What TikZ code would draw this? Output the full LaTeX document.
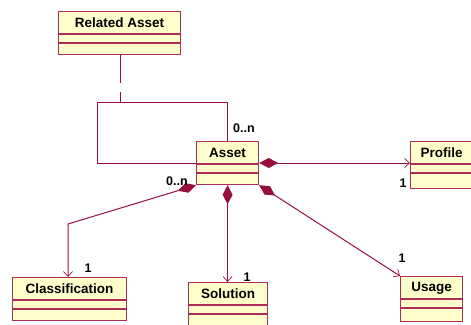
\documentclass[tikz,border=0pt]{standalone}
\usepackage{fontspec}
\setmainfont{Liberation Sans}
\usetikzlibrary{arrows.meta,calc}
\definecolor{classedge}{RGB}{176,44,88}
\definecolor{classfill}{RGB}{255,255,204}
\definecolor{assoc}{RGB}{150,16,60}
\tikzset{
  classbox/.style={draw=classedge, fill=classfill, line width=1.2pt, inner sep=0pt, anchor=north west},
  classname/.style={font=\bfseries\fontsize{13.5}{15}\selectfont, inner sep=0pt},
  mult/.style={font=\bfseries\fontsize{12.5}{14}\selectfont, inner sep=0pt, text=black},
  link/.style={draw=assoc, line width=1pt},
  compose/.style={link, {Diamond[fill=assoc, length=19pt, width=10pt]}-{Straight Barb[length=5pt, width=9pt, line width=0.7pt]}},
}
% \umlclass{name}{left}{top}{width}{height}{label}: a class box with two empty compartments
% (y grows downwards in this picture)
\newcommand\umlclass[6]{%
  \node[classbox, minimum width=#4pt, minimum height=#5pt] (#1) at (#2,#3) {};
  \draw[classedge, line width=1.2pt] ($(#1.north west)+(0,23)$) -- ($(#1.north east)+(0,23)$);
  \draw[classedge, line width=1.2pt] ($(#1.north west)+(0,32)$) -- ($(#1.north east)+(0,32)$);
  \node[classname] (#1-label) at ($(#1.north)+(0,12)$) {#6};
}
\begin{document}
\begin{tikzpicture}[x=1pt, y=-1pt]
\useasboundingbox (0,0) rectangle (471,324);
\clip (0,0) rectangle (471,324);

\umlclass{related}{58}{11}{122}{43}{Related Asset}
\umlclass{asset}{196}{141}{62}{43}{Asset}
\umlclass{profile}{410}{141}{62}{47}{Profile}
\umlclass{classif}{12}{277}{114}{43}{Classification}
\umlclass{solution}{188}{282}{79}{50}{Solution}
\umlclass{usage}{400}{276}{62}{45}{Usage}

% self association of Asset, joined to Related Asset
\coordinate (loopL) at (97,102);
\coordinate (loopR) at (227,102);
\coordinate (gapTop) at (120,83);
\coordinate (gapBot) at (120,92);
\draw[link] (related.south -| gapTop) -- (gapTop);
\draw[link] (gapBot) -- (loopL -| gapBot);
\draw[link] (asset.north -| loopR) -- (loopR) -- (loopL) -- (loopL |- 163,163) -- (asset.west |- 163,163);
\node[mult, anchor=south west] (m-self) at (233,133) {0..n};

% compositions from Asset
\coordinate (bendC) at (68,224);
\draw[compose] (asset.south west) -- (bendC) -- (classif.north -| bendC);
\node[mult] (m-cl-a) at (177,181) {0..n};
\node[mult] (m-cl-b) at (88,268) {1};

\draw[compose] (asset.south) -- (solution.north -| asset.south);
\node[mult] (m-so) at (247,277) {1};

\draw[compose] (asset.south east) -- (usage.north west);
\node[mult] (m-us) at (402,258) {1};

\draw[compose] (asset.east |- 163,163) -- (profile.west |- 163,163);
\node[mult] (m-pr) at (403,183) {1};
\end{tikzpicture}
\end{document}
